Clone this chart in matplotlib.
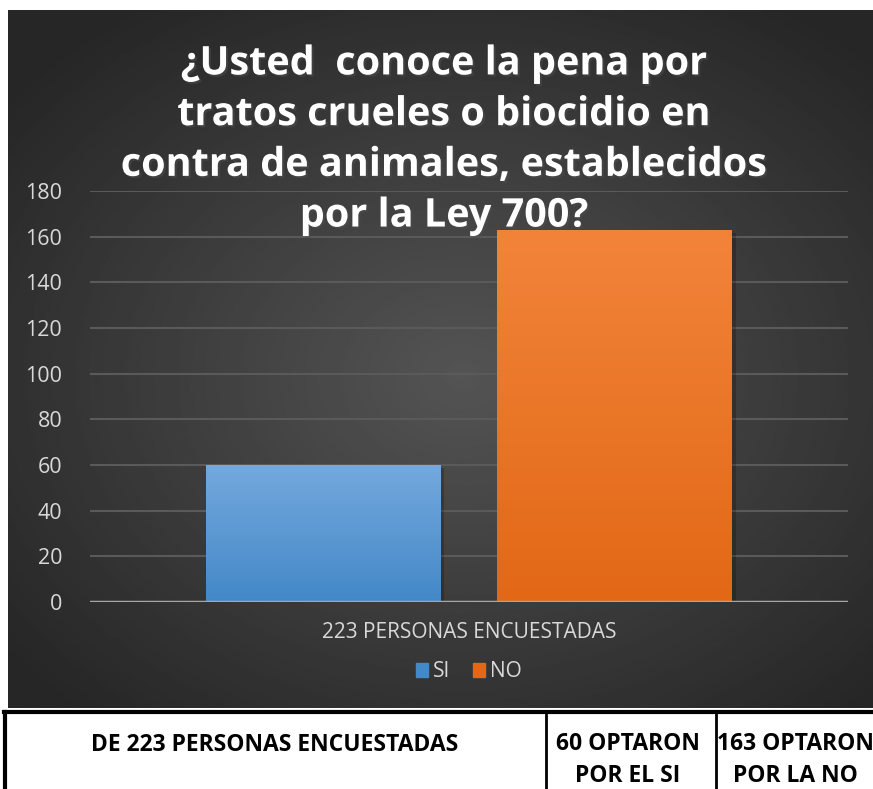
import numpy as np
import matplotlib.pyplot as plt
import matplotlib.patheffects as pe
from matplotlib.patches import Rectangle
from matplotlib.colors import LinearSegmentedColormap

# datos de la encuesta
categoria = "223 PERSONAS ENCUESTADAS"
series = ["SI", "NO"]
valores = [60, 163]
yticks = [0, 20, 40, 60, 80, 100, 120, 140, 160, 180]
titulo = "¿Usted  conoce la pena por\ntratos crueles o biocidio en\ncontra de animales, establecidos\npor la Ley 700?"
tabla = ["DE 223 PERSONAS ENCUESTADAS", "60 OPTARON\nPOR EL SI", "163 OPTARON\nPOR LA NO"]

colores_top = ["#74a9dd", "#f2843a"]
colores_bot = ["#4488c8", "#e26816"]

plt.rcParams['font.family'] = ['Open Sans', 'DejaVu Sans']

W, H = 873, 789
fig = plt.figure(figsize=(W / 100, H / 100), dpi=100)
fig.patch.set_facecolor('white')

def px(x0, y0, x1, y1):
    # caja en pixeles (origen arriba-izquierda) -> coordenadas de figura
    return [x0 / W, 1 - y1 / H, (x1 - x0) / W, (y1 - y0) / H]

# fondo con degradado radial
bg = fig.add_axes(px(8, 10, 873, 708))
yy, xx = np.mgrid[-1:1:300j, -1:1:300j]
r = np.sqrt(((xx - 0.05) * 0.95) ** 2 + (yy - 0.05) ** 2)
img = np.clip(0.33 - 0.14 * r, 0.15, 1)
bg.imshow(img, cmap='gray', vmin=0, vmax=1, aspect='auto', extent=[0, 1, 0, 1])
bg.set_axis_off()

# grafico
ax = fig.add_axes(px(90, 191, 848, 602))
ax.set_facecolor('none')
ax.set_yticks(yticks)
ax.set_yticklabels([str(t) for t in yticks], color='#d9d9d9', fontsize=15.5)
ax.tick_params(axis='y', length=0, pad=20)
ax.set_xticks([])
for s in ax.spines.values():
    s.set_visible(False)
ax.yaxis.grid(True, color='#5a5a5a', linewidth=1.5)
ax.set_axisbelow(True)

offsets = [-0.385, 0.385]
ancho = 0.62
grad = np.linspace(1, 0, 256).reshape(-1, 1)
for i in range(2):
    x0 = offsets[i] - ancho / 2
    sombra = Rectangle((x0 + 0.01, 0), ancho, valores[i] - 1.5, facecolor='black', alpha=0.2,
                       edgecolor='none', zorder=2)
    ax.add_patch(sombra)
    b = ax.bar(offsets[i], valores[i], width=ancho, color=colores_bot[i], zorder=3,
               label=series[i])[0]
    cm = LinearSegmentedColormap.from_list('g%d' % i, [colores_bot[i], colores_top[i]])
    im = ax.imshow(grad, cmap=cm, extent=[x0, x0 + ancho, 0, valores[i]], aspect='auto',
                   zorder=4)
    im.set_clip_path(b)
ax.set_aspect('auto')
ax.set_xlim(-1, 1)
ax.set_ylim(0, 180)
ax.axhline(0, color='#a6a6a6', linewidth=2.5, zorder=5)

ax.text(0.5, -0.075, categoria, transform=ax.transAxes, ha='center', va='center',
        fontsize=15, color='#d9d9d9')

leg = ax.legend(loc='center', bbox_to_anchor=(0.5, -0.17), ncol=2, frameon=False,
                fontsize=15, handlelength=0.55, handleheight=0.7, handletextpad=0.25,
                columnspacing=1.1, labelcolor='#d9d9d9')
for h, c in zip(leg.legend_handles, colores_bot):
    h.set_color(c)

# titulo
fig.text(444 / W, 1 - 140 / H, titulo, ha='center', va='center', fontsize=28.5,
         fontweight='bold', color='white', linespacing=1.39,
         path_effects=[pe.withSimplePatchShadow(offset=(1.5, -1.5), alpha=0.5)])

# tabla inferior
tb = fig.add_axes([0, 0, 1, 1], facecolor='none')
tb.set_xlim(0, W)
tb.set_ylim(H, 0)
tb.set_axis_off()
tb.plot([4, W], [712, 712], color='black', linewidth=3)
tb.plot([5, 5], [712, H], color='black', linewidth=3)
tb.plot([546, 546], [712, H], color='black', linewidth=2)
tb.plot([716, 716], [712, H], color='black', linewidth=2)
tb.text(275, 745, tabla[0], ha='center', va='center', fontsize=16.5, fontweight='bold')
tb.text(628, 760, tabla[1], ha='center', va='center', fontsize=16.5, fontweight='bold',
        linespacing=1.5)
tb.text(795, 760, tabla[2], ha='center', va='center', fontsize=16.5, fontweight='bold',
        linespacing=1.5, clip_on=True)

fig.savefig('out.png', dpi=100)
